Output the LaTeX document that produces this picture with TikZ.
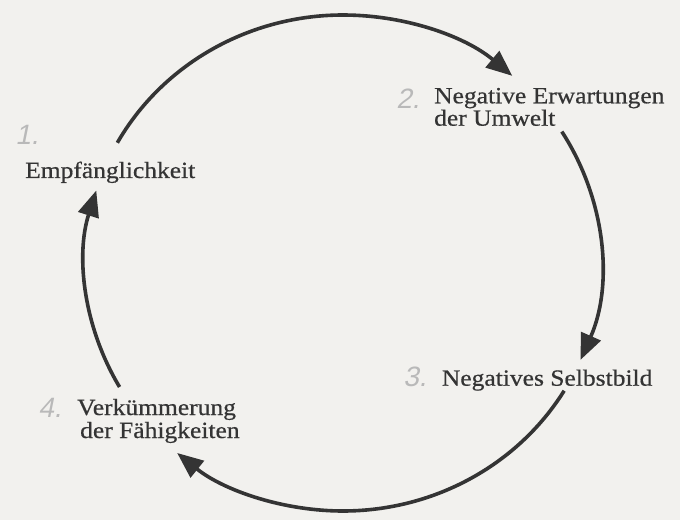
\documentclass[tikz,border=0pt]{standalone}
\usepackage{fontspec}
\setmainfont{Liberation Serif}[FakeStretch=1.1,FakeBold=0.6]
\newfontfamily\handfont{Liberation Sans}[FakeSlant=0.2]
\usetikzlibrary{arrows.meta,calc}
\definecolor{paper}{RGB}{242,241,238}
\definecolor{ink}{RGB}{52,52,52}
\definecolor{pencil}{RGB}{185,185,185}
\begin{document}
\begin{tikzpicture}[x=1pt,y=1pt,
  lbl/.style={anchor=base west,inner sep=0pt,text=ink,font=\fontsize{23.2}{23}\selectfont},
  num/.style={inner sep=0pt,text=pencil,font=\handfont\fontsize{28}{28}\selectfont},
  conn/.style={draw=ink,line width=3.6pt,-{Triangle[length=26pt,width=21pt]}}]
\fill[paper] (0,0) rectangle (680,520);
\useasboundingbox (0,0) rectangle (680,520);
\coordinate (C) at (343,257);
% labels
\node[lbl] (n1) at (25,342) {Empfänglichkeit};
\node[lbl] (n2) at (434,416.7) {Negative Erwartungen};
\node[lbl] (n2b) at (434,394.3) {der Umwelt};
\node[lbl] (n3) at (441.7,134.3) {Negatives Selbstbild};
\node[lbl] (n4) at (77,105) {Verkümmerung};
\node[lbl] (n4b) at (80,82) {der Fähigkeiten};
% handwritten numbers
\node[num] (h1) at (27,385) {1.};
\node[num] (h2) at (408,421) {2.};
\node[num] (h3) at (415,143) {3.};
\node[num] (h4) at (50,112) {4.};
% arcs
\coordinate (a1) at ($(C)+(151:258 and 248)$);
\coordinate (a2) at ($(C)+(32:258 and 248)$);
\coordinate (a3) at ($(C)+(-31:258 and 248)$);
\coordinate (a4) at ($(C)+(-150:258 and 248)$);
\draw[conn] (a1) arc[start angle=151,end angle=49,x radius=258,y radius=248];
\draw[conn] (a2) arc[start angle=32,end angle=-23,x radius=258,y radius=248];
\draw[conn] (a3) arc[start angle=-31,end angle=-130,x radius=258,y radius=248];
\draw[conn] (a4) arc[start angle=-150,end angle=-197,x radius=258,y radius=248];
\end{tikzpicture}
\end{document}
